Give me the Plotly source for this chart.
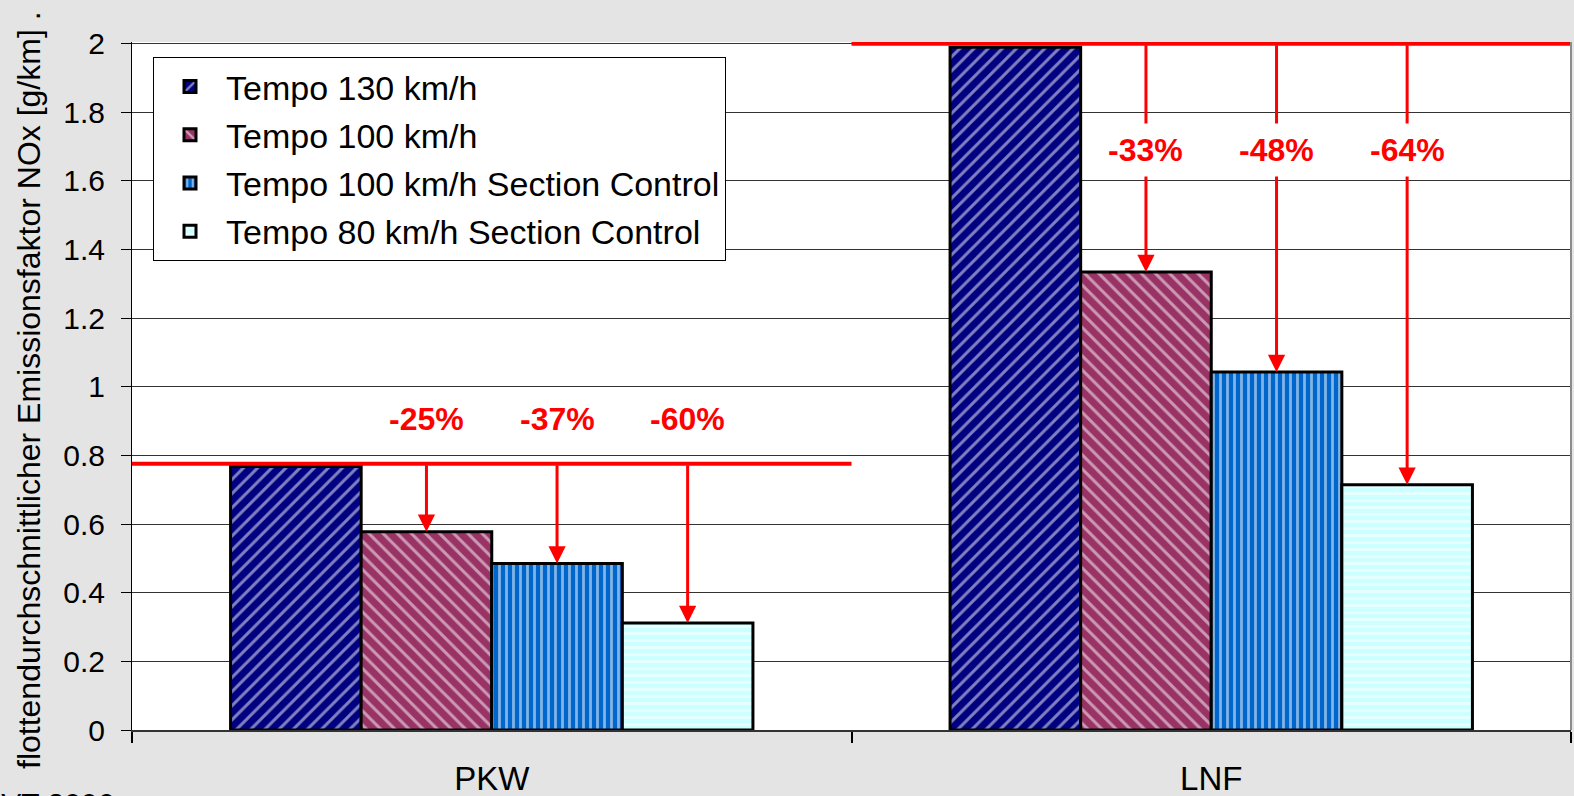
import plotly.graph_objects as go

# ---------------- data ----------------
categories = ["PKW", "LNF"]
series_names = [
    "Tempo 130 km/h",
    "Tempo 100 km/h",
    "Tempo 100 km/h Section Control",
    "Tempo 80 km/h Section Control",
]
tempo130 = [0.768, 1.99]
tempo100 = [0.578, 1.335]
tempo100_sc = [0.485, 1.043]
tempo80_sc = [0.312, 0.715]
reference_level = [0.776, 2.0]          # red reference line per category
reduction_labels = [["-25%", "-37%", "-60%"], ["-33%", "-48%", "-64%"]]
label_level = [0.905, 1.69]
y_tick_vals = [0, 0.2, 0.4, 0.6, 0.8, 1.0, 1.2, 1.4, 1.6, 1.8, 2.0]
y_tick_text = ["0", "0.2", "0.4", "0.6", "0.8", "1", "1.2", "1.4", "1.6", "1.8", "2"]
y_title = "flottendurchschnittlicher Emissionsfaktor NOx [g/km] ."
source_note = "IVT 2006"

# ---------------- style ----------------
FONT = "Liberation Sans, Arial, sans-serif"
BG = "#E4E4E4"
W, H = 1574, 796
ML, MR, MT, MB = 132, 3, 42, 66
BARGAP = 0.274
styles = [
    dict(shape="/", bgcolor="#000080", fgcolor="#FFFFFF", size=10, solidity=0.3),
    dict(shape="\\", bgcolor="#993366", fgcolor="#FFFFFF", size=10, solidity=0.3),
    dict(shape="|", bgcolor="#0066CC", fgcolor="#FFFFFF", size=7, solidity=0.4),
    dict(shape="-", bgcolor="#CCFFFF", fgcolor="#FFFFFF", size=7, solidity=0.4),
]
all_series = [tempo130, tempo100, tempo100_sc, tempo80_sc]

fig = go.Figure()
for i, (name, vals) in enumerate(zip(series_names, all_series)):
    fig.add_trace(go.Bar(
        x=categories, y=vals, name=name, legendgroup=name,
        marker=dict(pattern=styles[i], line=dict(color="black", width=3)),
        hoverinfo="skip",
    ))

n_series = len(all_series)
def bar_center(cat_idx, series_idx):
    w = (1 - BARGAP) / n_series
    return cat_idx - 0.5 + BARGAP / 2 + (series_idx + 0.5) * w

shapes = []
annotations = []
for c, cat in enumerate(categories):
    ref = reference_level[c]
    shapes.append(dict(type="line", xref="x", yref="y", x0=c - 0.5, x1=c + 0.5,
                       y0=ref, y1=ref, line=dict(color="#FF0000", width=4), layer="above"))
    for s in range(1, n_series):
        xc = bar_center(c, s)
        annotations.append(dict(
            x=xc, y=all_series[s][c], xref="x", yref="y",
            ax=xc, ay=ref, axref="x", ayref="y",
            text="", showarrow=True, arrowhead=2, arrowsize=1.15, arrowwidth=3,
            arrowcolor="#FF0000", standoff=0, startstandoff=0,
        ))
for c, cat in enumerate(categories):
    for s in range(1, n_series):
        xc = bar_center(c, s)
        annotations.append(dict(
            x=xc, y=label_level[c], xref="x", yref="y",
            text="<b>%s</b>" % reduction_labels[c][s - 1], showarrow=False,
            font=dict(family=FONT, size=32, color="#FF0000"),
            bgcolor="#FFFFFF", borderpad=8,
        ))

# right border of plot area
shapes.append(dict(type="line", xref="paper", yref="paper", x0=1, x1=1, y0=0, y1=1,
                   line=dict(color="#8C8C8C", width=2), layer="above"))

plot_h = H - MT - MB
plot_w = W - ML - MR
annotations.append(dict(
    text=y_title, textangle=-90, showarrow=False,
    xref="paper", yref="paper", x=-(ML - 29) / plot_w, y=(H - MB - 390) / plot_h,
    xanchor="center", yanchor="middle",
    font=dict(family=FONT, size=32, color="black"),
))
annotations.append(dict(
    text=source_note, showarrow=False, xref="paper", yref="paper",
    x=-(ML - 115) / plot_w, y=-(786 - (H - MB)) / plot_h,
    xanchor="right", yanchor="top", borderpad=0,
    font=dict(family=FONT, size=30, color="black"),
))

fig.update_layout(
    width=W, height=H,
    margin=dict(l=ML, r=MR, t=MT, b=MB, pad=0, autoexpand=False),
    paper_bgcolor=BG, plot_bgcolor="#FFFFFF",
    barmode="group", bargap=BARGAP, bargroupgap=0,
    font=dict(family=FONT, color="black"),
    shapes=shapes, annotations=annotations,
    showlegend=True,
    legend=dict(
        x=(153 - ML) / plot_w, y=(H - MB - 57) / plot_h, xanchor="left", yanchor="top",
        bgcolor="#FFFFFF", bordercolor="black", borderwidth=1,
        font=dict(family=FONT, size=34, color="black"),
        tracegroupgap=1, itemwidth=62,
    ),
    xaxis=dict(
        type="category", showline=True, linecolor="#333333", linewidth=2,
        ticks="outside", tickson="boundaries", ticklen=11, tickcolor="black", tickwidth=2,
        showgrid=False, tickfont=dict(family=FONT, size=33, color="black"),
        ticklabelstandoff=18, range=[-0.5, 1.5], automargin=False,
    ),
    yaxis=dict(
        range=[0, 2.005], tickvals=y_tick_vals, ticktext=y_tick_text,
        showline=True, linecolor="black", linewidth=1,
        ticks="outside", ticklen=10, tickcolor="black",
        showgrid=True, gridcolor="#333333", gridwidth=1, zeroline=False,
        tickfont=dict(family=FONT, size=30, color="black"), ticklabelstandoff=10,
        automargin=False,
    ),
)

fig.write_html(
    "out.html",
    config={"displayModeBar": False},
    post_script="document.body.style.margin='0';document.body.style.overflow='hidden';"
                "document.body.style.background='%s';" % BG,
)
